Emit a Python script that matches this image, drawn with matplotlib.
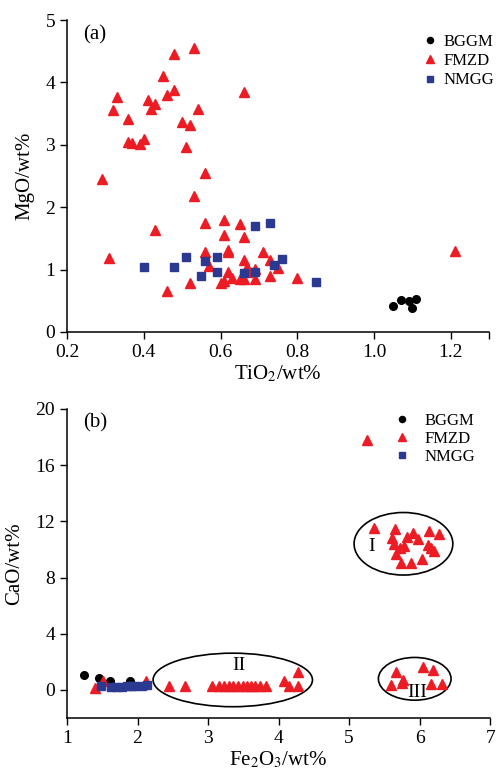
import matplotlib
matplotlib.use("Agg")
import matplotlib.pyplot as plt
from matplotlib.patches import Ellipse

plt.rcParams['font.family'] = ['Liberation Serif', 'DejaVu Serif']
plt.rcParams['mathtext.fontset'] = 'stix'

# ---- panel (a): TiO2 vs MgO ----
a_bggm_x = [1.05, 1.07, 1.09, 1.11, 1.10]
a_bggm_y = [0.42, 0.51, 0.50, 0.52, 0.39]

a_fmzd_x = [0.53, 0.48, 0.45, 0.33, 0.41, 0.46, 0.48, 0.66, 0.32, 0.43, 0.42, 0.54,
            0.36, 0.50, 0.52, 0.36, 0.37, 0.40, 0.39, 0.51, 0.29, 0.56, 0.53, 0.56,
            0.61, 0.65, 0.43, 0.61, 0.66, 0.31, 0.56, 0.62, 0.62, 0.71, 0.66, 0.73,
            0.57, 0.67, 0.75, 0.69, 0.62, 0.67, 0.63, 0.65, 0.66, 0.69, 0.73, 0.80,
            0.60, 0.61, 0.52, 0.46, 1.21]
a_fmzd_y = [4.55, 4.45, 4.10, 3.77, 3.72, 3.80, 3.87, 3.85, 3.56, 3.65, 3.57, 3.58,
            3.42, 3.37, 3.31, 3.04, 3.03, 3.10, 3.01, 2.96, 2.45, 2.54, 2.18, 1.75,
            1.80, 1.73, 1.63, 1.55, 1.52, 1.18, 1.28, 1.32, 1.28, 1.28, 1.15, 1.16,
            1.05, 1.04, 1.03, 1.01, 0.96, 0.96, 0.86, 0.84, 0.85, 0.84, 0.89, 0.86,
            0.79, 0.81, 0.78, 0.66, 1.30]

a_nmgg_x = [0.69, 0.73, 0.51, 0.59, 0.56, 0.76, 0.74, 0.40, 0.48, 0.59, 0.66, 0.69,
            0.55, 0.85]
a_nmgg_y = [1.70, 1.75, 1.20, 1.20, 1.13, 1.17, 1.08, 1.04, 1.04, 0.96, 0.94, 0.96,
            0.90, 0.80]

# ---- panel (b): Fe2O3 vs CaO ----
b_bggm_x = [1.24, 1.46, 1.61, 1.89]
b_bggm_y = [1.05, 0.83, 0.60, 0.60]

b_fmzd_x = [5.26,
            5.35, 5.65, 6.13, 6.27, 5.90, 5.82, 5.61, 5.98, 5.63, 5.78, 5.72, 6.12,
            6.16, 6.20, 5.67, 6.03, 5.73, 5.88,
            1.40, 1.51, 2.12, 2.44, 2.67,
            3.05, 3.15, 3.22, 3.29, 3.36, 3.43, 3.49, 3.55, 3.61, 3.67, 3.73, 3.82,
            4.08, 4.15, 4.28, 4.28,
            5.59, 5.67, 5.76, 5.75, 6.05, 6.19, 6.16, 6.31]
b_fmzd_y = [17.8,
            11.5, 11.45, 11.3, 11.07, 11.17, 10.88, 10.83, 10.76, 10.4, 10.24, 10.1, 10.3,
            10.12, 9.88, 9.64, 9.33, 9.05, 9.05,
            0.17, 0.60, 0.64, 0.29, 0.29,
            0.29, 0.29, 0.29, 0.29, 0.29, 0.29, 0.29, 0.29, 0.29, 0.29, 0.29, 0.29,
            0.60, 0.29, 0.29, 1.24,
            0.36, 1.24, 0.69, 0.48, 1.64, 1.41, 0.41, 0.41]

b_nmgg_x = [1.48, 1.63, 1.70, 1.78, 1.85, 1.92, 1.95, 2.06, 2.13]
b_nmgg_y = [0.25, 0.22, 0.22, 0.24, 0.26, 0.28, 0.28, 0.30, 0.33]

# groups I, II, III (center x, center y, width, height, label x, label y)
groups = {
    'I':   (5.77, 10.40, 1.40, 4.45, 5.32, 10.24),
    'II':  (3.35, 0.71, 2.26, 3.81, 3.43, 1.75),
    'III': (5.93, 0.79, 1.03, 3.04, 5.96, -0.19),
}

RED = '#ec1c24'
BLUE = '#2b3990'


def style_axes(ax):
    ax.spines['top'].set_visible(False)
    ax.spines['right'].set_visible(False)
    ax.tick_params(direction='out', length=5, width=1, labelsize=14)
    for s in ('left', 'bottom'):
        ax.spines[s].set_linewidth(1.1)


def draw_series(ax, bx, by, fx, fy, nx, ny):
    ax.plot(bx, by, 'o', color='black', ms=5.5, ls='none', label='BGGM', clip_on=False)
    ax.plot(fx, fy, '^', color=RED, ms=7.5, ls='none', label='FMZD', clip_on=False)
    ax.plot(nx, ny, 's', color=BLUE, ms=5.5, ls='none', label='NMGG', clip_on=False)


fig = plt.figure(figsize=(5.02, 7.70), dpi=100)

ax1 = fig.add_axes([0.1335, 0.569, 0.841, 0.405])
draw_series(ax1, a_bggm_x, a_bggm_y, a_fmzd_x, a_fmzd_y, a_nmgg_x, a_nmgg_y)
ax1.set_xlim(0.2, 1.3)
ax1.set_ylim(0, 5)
ax1.set_xticks([0.2, 0.4, 0.6, 0.8, 1.0, 1.2, 1.3])
ax1.set_xticklabels(['0.2', '0.4', '0.6', '0.8', '1.0', '1.2', ''])
ax1.set_yticks([0, 1, 2, 3, 4, 5])
style_axes(ax1)
ax1.set_xlabel(r'TiO$_2$/wt%', fontsize=15, labelpad=2)
ax1.set_ylabel('MgO/wt%', fontsize=15, labelpad=8)
ax1.text(0.038, 0.984, '(a)', transform=ax1.transAxes, fontsize=15, va='top')
ax1.legend(loc='upper left', bbox_to_anchor=(0.8365, 0.955), frameon=False,
           fontsize=12, handletextpad=0.18, labelspacing=0.19, markerscale=0.8,
           handlelength=1.2, borderpad=0, borderaxespad=0)

ax2 = fig.add_axes([0.1335, 0.0675, 0.843, 0.4015])
draw_series(ax2, b_bggm_x, b_bggm_y, b_fmzd_x, b_fmzd_y, b_nmgg_x, b_nmgg_y)
for name, (cx, cy, w, h, lx, ly) in groups.items():
    ax2.add_patch(Ellipse((cx, cy), w, h, fill=False, ec='black', lw=1.2))
    ax2.text(lx, ly, name, fontsize=14, ha='center', va='center')
ax2.set_xlim(1, 7)
ax2.set_ylim(-2, 20)
ax2.set_xticks([1, 2, 3, 4, 5, 6, 7])
ax2.set_yticks([0, 4, 8, 12, 16, 20])
style_axes(ax2)
ax2.set_xlabel(r'Fe$_2$O$_3$/wt%', fontsize=15, labelpad=2)
ax2.set_ylabel('CaO/wt%', fontsize=15, labelpad=8)
ax2.text(0.038, 0.987, '(b)', transform=ax2.transAxes, fontsize=15, va='top')
ax2.legend(loc='upper left', bbox_to_anchor=(0.768, 0.987), frameon=False,
           fontsize=12, handletextpad=0.72, labelspacing=0.13, markerscale=0.8,
           handlelength=1.2, borderpad=0, borderaxespad=0)

fig.savefig('out.png', dpi=100)
